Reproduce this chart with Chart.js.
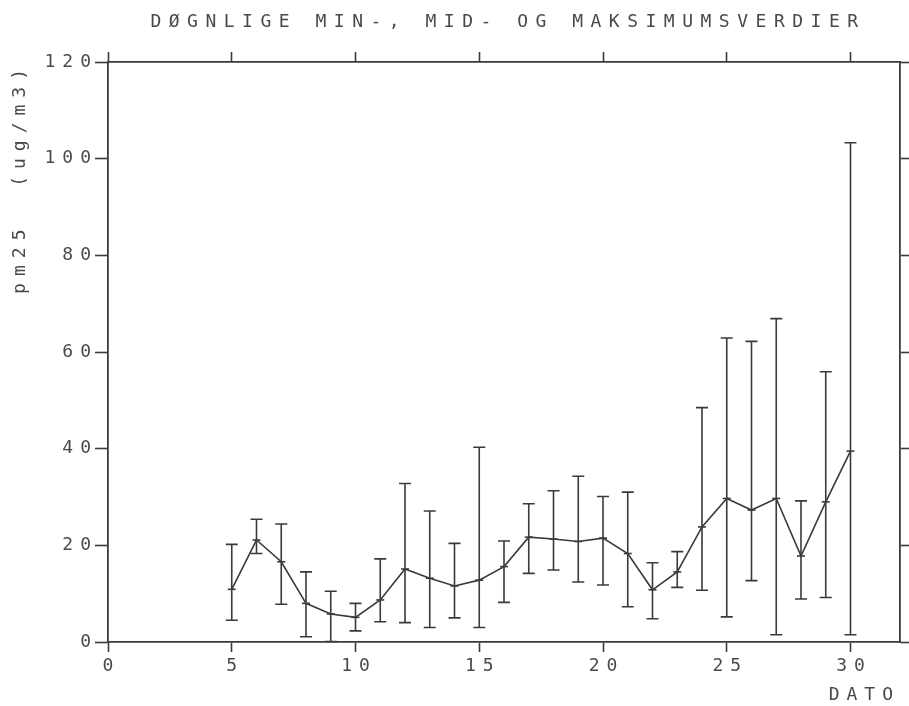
<!DOCTYPE html>
<html>
<head>
<meta charset="utf-8">
<script src="https://cdn.jsdelivr.net/npm/chart.js@4"></script>
<style>
  html, body { margin: 0; padding: 0; background: #fff; }
  #wrap { width: 909px; height: 706px; }
</style>
</head>
<body>
<div id="wrap"><canvas id="chart"></canvas></div>
<script>
// ─── DATA ───────────────────────────────────────────────
const tittel = 'DØGNLIGE MIN-, MID- OG MAKSIMUMSVERDIER';
const yTittel = 'pm25  (ug/m3)';
const xTittel = 'DATO';

const dager = [5, 6, 7, 8, 9, 10, 11, 12, 13, 14, 15, 16, 17, 18, 19, 20, 21, 22, 23, 24, 25, 26, 27, 28, 29, 30];
const middel = [10.9, 21.1, 16.6, 8.0, 5.8, 5.1, 8.7, 15.1, 13.2, 11.6, 12.8, 15.6, 21.7, 21.3, 20.8, 21.5, 18.3, 10.8, 14.5, 23.8, 29.7, 27.3, 29.7, 17.8, 29.0, 39.5];
const minimum = [4.5, 18.3, 7.8, 1.1, 0.1, 2.3, 4.2, 4.0, 3.0, 5.0, 3.0, 8.2, 14.2, 14.9, 12.4, 11.8, 7.3, 4.8, 11.3, 10.7, 5.2, 12.7, 1.5, 8.9, 9.2, 1.5];
const maksimum = [20.2, 25.4, 24.4, 14.5, 10.5, 8.0, 17.2, 32.8, 27.1, 20.4, 40.3, 20.9, 28.6, 31.3, 34.3, 30.1, 31.0, 16.4, 18.7, 48.5, 62.9, 62.2, 66.9, 29.2, 55.9, 103.3];

const xMin = 0, xMax = 32, xStep = 5;
const yMin = 0, yMax = 120, yStep = 20;

// ─── STIL ───────────────────────────────────────────────
const LINJE = '#3a3a3a';
const TEKST = '#4a4a4a';
const FONT = "'DejaVu Sans Mono', 'Liberation Mono', monospace";
const SPERR = 7; // px mellom tegn (plotter-skrift)

// Feilstolper (min–maks) tegnes fra skalaene
const feilstolper = {
  id: 'feilstolper',
  afterDatasetsDraw(chart) {
    const { ctx, scales: { x, y } } = chart;
    ctx.save();
    ctx.strokeStyle = LINJE;
    ctx.lineWidth = 1.6;
    dager.forEach((d, i) => {
      const px = x.getPixelForValue(d);
      const lo = y.getPixelForValue(minimum[i]);
      const hi = y.getPixelForValue(maksimum[i]);
      ctx.beginPath();
      ctx.moveTo(px, lo); ctx.lineTo(px, hi);
      ctx.moveTo(px - 6, lo); ctx.lineTo(px + 6, lo);
      ctx.moveTo(px - 6, hi); ctx.lineTo(px + 6, hi);
      ctx.stroke();
    });
    ctx.restore();
  }
};

// Sperret skrift + tittel over plottet
const sperring = {
  id: 'sperring',
  beforeDraw(chart) { chart.ctx.letterSpacing = SPERR + 'px'; },
  afterDraw(chart) {
    const { ctx, chartArea } = chart;
    ctx.save();
    ctx.letterSpacing = '7.5px';
    ctx.font = '18px ' + FONT;
    ctx.fillStyle = TEKST;
    ctx.textAlign = 'center';
    ctx.textBaseline = 'middle';
    ctx.fillText(tittel, (chartArea.left + chartArea.right) / 2 + 4, 22);
    ctx.restore();
  }
};

const skjult = { display: false };
const tekstFont = { family: FONT, size: 18 };

new Chart(document.getElementById('chart'), {
  type: 'line',
  data: {
    datasets: [{
      label: 'Middel',
      data: dager.map((d, i) => ({ x: d, y: middel[i] })),
      borderColor: LINJE,
      borderWidth: 1.6,
      tension: 0,
      pointStyle: 'line',
      pointRadius: 4,
      pointBorderWidth: 1.6,
      pointBorderColor: LINJE,
      fill: false
    }]
  },
  options: {
    responsive: true,
    maintainAspectRatio: false,
    animation: false,
    layout: { padding: { top: 52 } },
    plugins: { legend: skjult, tooltip: { enabled: false } },
    scales: {
      x: {
        type: 'linear', position: 'bottom', min: xMin, max: xMax,
        afterBuildTicks: s => { s.ticks = s.ticks.filter(t => t.value % xStep === 0); },
        afterFit: s => { s.height = 64; },
        ticks: { stepSize: xStep, color: TEKST, padding: 4, labelOffset: SPERR / 2, maxRotation: 0, font: tekstFont },
        grid: { drawOnChartArea: false, tickLength: 10, color: LINJE, tickWidth: 1.6 },
        border: { color: LINJE, width: 1.8 },
        title: { display: true, text: xTittel, align: 'end', color: TEKST, padding: { top: 0, bottom: 0 }, font: tekstFont }
      },
      x2: {
        type: 'linear', position: 'top', min: xMin, max: xMax,
        afterBuildTicks: s => { s.ticks = s.ticks.filter(t => t.value % xStep === 0); },
        afterFit: s => { s.height = 10; },
        ticks: { stepSize: xStep, display: false },
        grid: { drawOnChartArea: false, tickLength: 10, color: LINJE, tickWidth: 1.6 },
        border: { color: LINJE, width: 1.8 }
      },
      y: {
        type: 'linear', position: 'left', min: yMin, max: yMax,
        afterFit: s => { s.width = 108; },
        ticks: { stepSize: yStep, color: TEKST, padding: -3, font: tekstFont },
        grid: { drawOnChartArea: false, tickLength: 13, color: LINJE, tickWidth: 1.6 },
        border: { color: LINJE, width: 1.8 },
        title: { display: true, text: yTittel, align: 'end', color: TEKST, padding: { top: 10, bottom: 0 }, font: tekstFont }
      },
      y2: {
        type: 'linear', position: 'right', min: yMin, max: yMax,
        afterFit: s => { s.width = 9; },
        ticks: { stepSize: yStep, display: false },
        grid: { drawOnChartArea: false, tickLength: 9, color: LINJE, tickWidth: 1.6 },
        border: { color: LINJE, width: 1.8 }
      }
    }
  },
  plugins: [feilstolper, sperring]
});
</script>
</body>
</html>
